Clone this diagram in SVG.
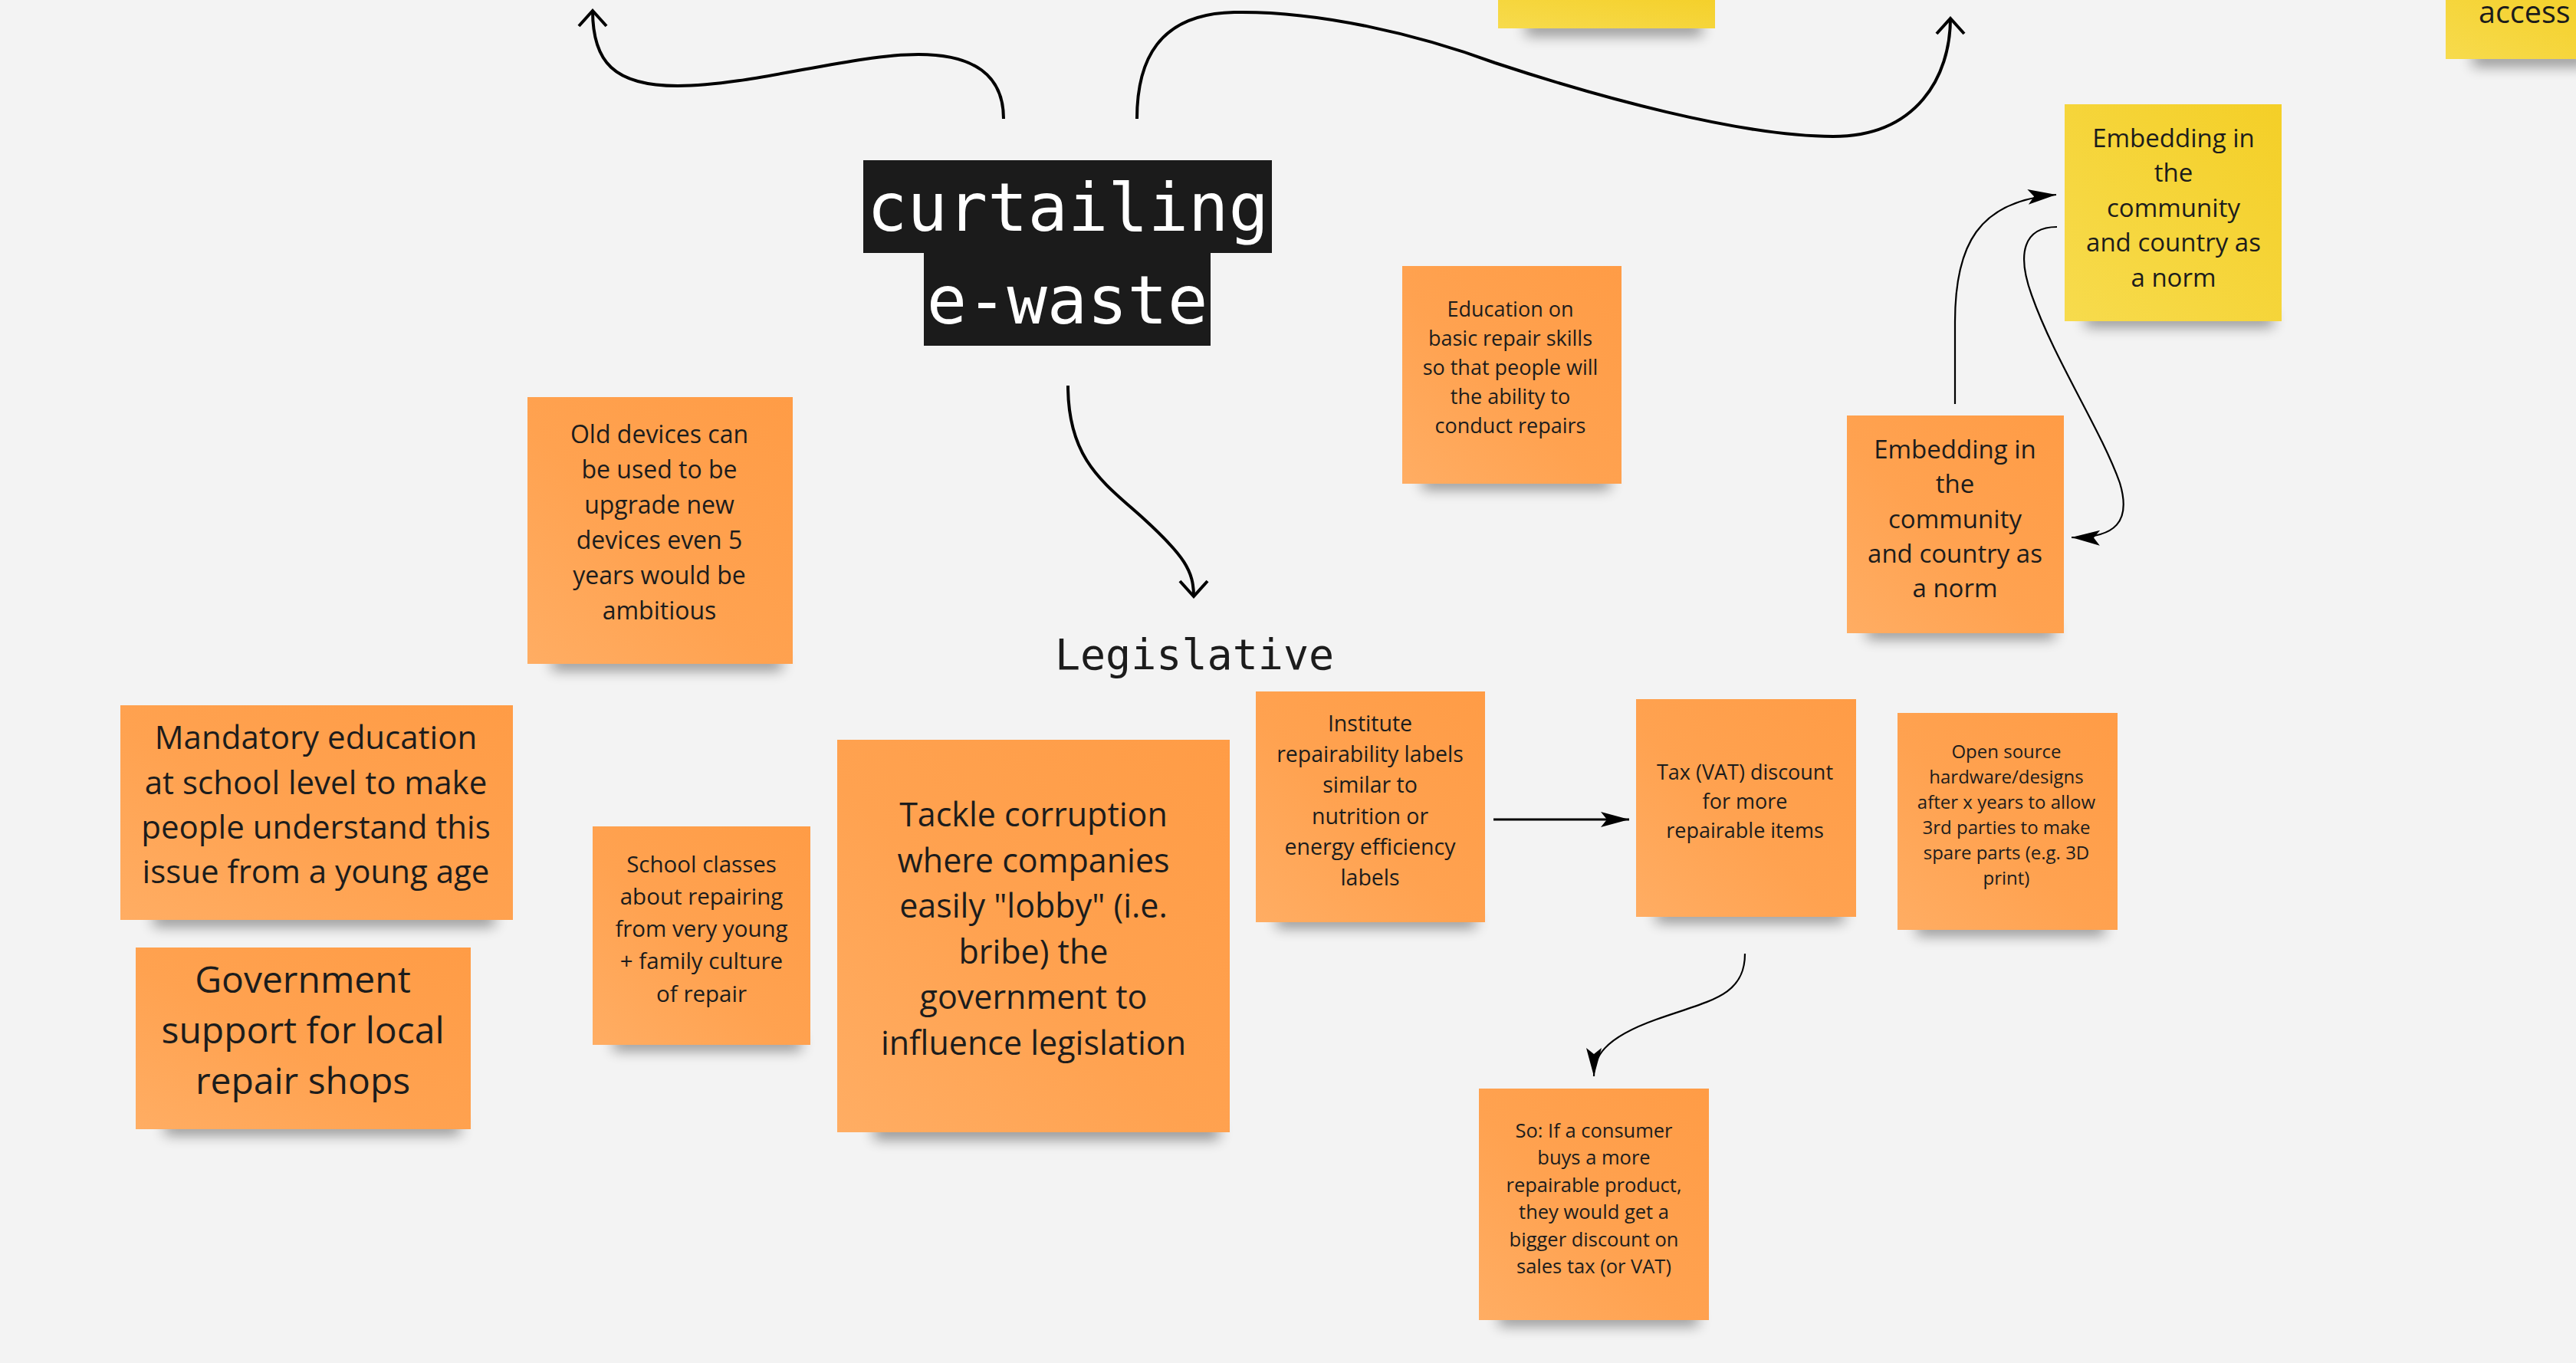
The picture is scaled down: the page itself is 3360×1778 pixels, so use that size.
<svg xmlns="http://www.w3.org/2000/svg" width="3360" height="1778" viewBox="0 0 3360 1778">
<defs>
<linearGradient id="gOr" x1="1" y1="0" x2="0" y2="1">
<stop offset="0" stop-color="#FF9C46"/>
<stop offset="0.55" stop-color="#FFA250"/>
<stop offset="1" stop-color="#FFAD63"/>
</linearGradient>
<linearGradient id="gYe" x1="1" y1="0" x2="0" y2="1">
<stop offset="0" stop-color="#F4CF27"/>
<stop offset="1" stop-color="#F7DB4D"/>
</linearGradient>
<filter id="sh" x="-20%" y="-200%" width="140%" height="500%">
<feGaussianBlur stdDeviation="9"/>
</filter>
<marker id="vOpen" markerUnits="userSpaceOnUse" viewBox="-24 -22 28 44" refX="0" refY="0" markerWidth="28" markerHeight="44" orient="auto">
<path d="M-20,-18 L0,0 L-20,18" fill="none" stroke="#000" stroke-width="4"/>
</marker>
<marker id="tri" markerUnits="userSpaceOnUse" viewBox="-40 -12 42 24" refX="0" refY="0" markerWidth="42" markerHeight="24" orient="auto">
<path d="M0,0 L-37,-10 L-29,0 L-37,10 Z" fill="#000"/>
</marker>
</defs>
<style>
.bg{fill:#F3F3F3}
.or{fill:url(#gOr)}
.ye{fill:url(#gYe)}
.shd{fill:#000;opacity:0.42;filter:url(#sh)}
.t{font-family:"Open Sans","Noto Sans","Liberation Sans",sans-serif;fill:#1c1c1c;text-anchor:middle}
.mono{font-family:"DejaVu Sans Mono","Liberation Mono",monospace;text-anchor:middle}
.c4{fill:none;stroke:#000;stroke-width:4;stroke-linecap:butt}
.c2{fill:none;stroke:#000;stroke-width:2.2}
.c3{fill:none;stroke:#000;stroke-width:3}
</style>
<rect class="bg" x="0" y="0" width="3360" height="1778"/>

<g id="connectors">
<path class="c4" d="M1309,155 C1309,98 1270,71 1198,71 C1110,71 980,112 884,112 C800,112 773,80 773,14" marker-end="url(#vOpen)"/>
<path class="c4" d="M1483,155 C1483,80 1510,18 1610,16 C1720,14 1850,45 1950,82 C2080,125 2270,178 2391,178 C2500,178 2544,100 2544,24" marker-end="url(#vOpen)"/>
<path class="c4" d="M1393,503 C1393,600 1440,630 1490,675 C1545,725 1557,745 1557,778" marker-end="url(#vOpen)"/>
<path class="c2" d="M2550,527 L2550,420 C2550,320 2580,262 2682,254" marker-end="url(#tri)"/>
<path class="c2" d="M2683,296 C2640,296 2630,330 2650,385 C2680,470 2740,560 2765,630 C2780,680 2760,702 2702,701" marker-end="url(#tri)"/>
<path class="c3" d="M1948,1069 L2125,1069" marker-end="url(#tri)"/>
<path class="c2" d="M2276,1244 C2276,1300 2230,1305 2160,1330 C2090,1355 2079,1380 2079,1404" marker-end="url(#tri)"/>
</g>

<g id="title">
<rect x="1126" y="209" width="533" height="121" fill="#1B1B1B"/>
<rect x="1205" y="330" width="374" height="121" fill="#1B1B1B"/>
<text class="mono" x="1393" y="301" font-size="87" fill="#FFFFFF">curtailing</text>
<text class="mono" x="1392" y="422" font-size="87" fill="#FFFFFF">e-waste</text>
</g>

<g id="legislative">
<text class="mono" x="1558" y="873" font-size="55" fill="#1C1C1C">Legislative</text>
</g>

<g id="note-top-yellow">
<rect class="shd" x="1990" y="28" width="230" height="18"/>
<rect class="ye" x="1954" y="-10" width="283" height="47"/>
</g>

<g id="note-access">
<rect class="shd" x="3225" y="68" width="150" height="18"/>
<rect class="ye" x="3190" y="-10" width="200" height="87"/>
<text class="t" x="3233" y="30" font-size="39.5" style="text-anchor:start">access</text>
</g>

<g id="note-old-devices">
<rect class="shd" x="720" y="856" width="300" height="18"/>
<rect class="or" x="688" y="518" width="346" height="348"/>
<text class="t" font-size="32"><tspan x="860" y="578">Old devices can</tspan><tspan x="860" y="624">be used to be</tspan><tspan x="860" y="670">upgrade new</tspan><tspan x="860" y="716">devices even 5</tspan><tspan x="860" y="762">years would be</tspan><tspan x="860" y="808">ambitious</tspan></text>
</g>

<g id="note-education">
<rect class="shd" x="1855" y="620" width="245" height="18"/>
<rect class="or" x="1829" y="347" width="286" height="284"/>
<text class="t" font-size="27"><tspan x="1970" y="413">Education on</tspan><tspan x="1970" y="451">basic repair skills</tspan><tspan x="1970" y="489">so that people will</tspan><tspan x="1970" y="527">the ability to</tspan><tspan x="1970" y="565">conduct repairs</tspan></text>
</g>

<g id="note-embedding-yellow">
<rect class="shd" x="2720" y="408" width="245" height="18"/>
<rect class="ye" x="2693" y="136" width="283" height="283"/>
<text class="t" font-size="33"><tspan x="2835" y="192">Embedding in</tspan><tspan x="2835" y="237">the</tspan><tspan x="2835" y="283">community</tspan><tspan x="2835" y="328">and country as</tspan><tspan x="2835" y="374">a norm</tspan></text>
</g>

<g id="note-embedding-orange">
<rect class="shd" x="2435" y="815" width="245" height="18"/>
<rect class="or" x="2409" y="542" width="283" height="284"/>
<text class="t" font-size="33"><tspan x="2550" y="598">Embedding in</tspan><tspan x="2550" y="643">the</tspan><tspan x="2550" y="689">community</tspan><tspan x="2550" y="734">and country as</tspan><tspan x="2550" y="779">a norm</tspan></text>
</g>

<g id="note-mandatory">
<rect class="shd" x="200" y="1190" width="445" height="18"/>
<rect class="or" x="157" y="920" width="512" height="280"/>
<text class="t" font-size="42"><tspan x="412" y="977">Mandatory education</tspan><tspan x="412" y="1036">at school level to make</tspan><tspan x="412" y="1094">people understand this</tspan><tspan x="412" y="1152">issue from a young age</tspan></text>
</g>

<g id="note-government">
<rect class="shd" x="215" y="1462" width="385" height="18"/>
<rect class="or" x="177" y="1236" width="437" height="237"/>
<text class="t" font-size="48"><tspan x="395" y="1295">Government</tspan><tspan x="395" y="1361">support for local</tspan><tspan x="395" y="1427">repair shops</tspan></text>
</g>

<g id="note-school">
<rect class="shd" x="800" y="1352" width="245" height="18"/>
<rect class="or" x="773" y="1078" width="284" height="285"/>
<text class="t" font-size="29.5"><tspan x="915" y="1138">School classes</tspan><tspan x="915" y="1180">about repairing</tspan><tspan x="915" y="1222">from very young</tspan><tspan x="915" y="1264">+ family culture</tspan><tspan x="915" y="1307">of repair</tspan></text>
</g>

<g id="note-tackle">
<rect class="shd" x="1140" y="1466" width="450" height="20"/>
<rect class="or" x="1092" y="965" width="512" height="512"/>
<text class="t" font-size="43"><tspan x="1348" y="1078">Tackle corruption</tspan><tspan x="1348" y="1138">where companies</tspan><tspan x="1348" y="1197">easily "lobby" (i.e.</tspan><tspan x="1348" y="1257">bribe) the</tspan><tspan x="1348" y="1316">government to</tspan><tspan x="1348" y="1376">influence legislation</tspan></text>
</g>

<g id="note-institute">
<rect class="shd" x="1665" y="1192" width="260" height="18"/>
<rect class="or" x="1638" y="902" width="299" height="301"/>
<text class="t" font-size="28.5"><tspan x="1787" y="954">Institute</tspan><tspan x="1787" y="994">repairability labels</tspan><tspan x="1787" y="1034">similar to</tspan><tspan x="1787" y="1075">nutrition or</tspan><tspan x="1787" y="1115">energy efficiency</tspan><tspan x="1787" y="1155">labels</tspan></text>
</g>

<g id="note-tax">
<rect class="shd" x="2160" y="1185" width="245" height="18"/>
<rect class="or" x="2134" y="912" width="287" height="284"/>
<text class="t" font-size="27"><tspan x="2276" y="1017">Tax (VAT) discount</tspan><tspan x="2276" y="1055">for more</tspan><tspan x="2276" y="1093">repairable items</tspan></text>
</g>

<g id="note-open-source">
<rect class="shd" x="2500" y="1202" width="245" height="18"/>
<rect class="or" x="2475" y="930" width="287" height="283"/>
<text class="t" font-size="24"><tspan x="2617" y="989">Open source</tspan><tspan x="2617" y="1022">hardware/designs</tspan><tspan x="2617" y="1055">after x years to allow</tspan><tspan x="2617" y="1088">3rd parties to make</tspan><tspan x="2617" y="1121">spare parts (e.g. 3D</tspan><tspan x="2617" y="1154">print)</tspan></text>
</g>

<g id="note-so">
<rect class="shd" x="1955" y="1711" width="260" height="18"/>
<rect class="or" x="1929" y="1420" width="300" height="302"/>
<text class="t" font-size="25.5"><tspan x="2079" y="1484">So: If a consumer</tspan><tspan x="2079" y="1519">buys a more</tspan><tspan x="2079" y="1555">repairable product,</tspan><tspan x="2079" y="1590">they would get a</tspan><tspan x="2079" y="1626">bigger discount on</tspan><tspan x="2079" y="1661">sales tax (or VAT)</tspan></text>
</g>
</svg>
